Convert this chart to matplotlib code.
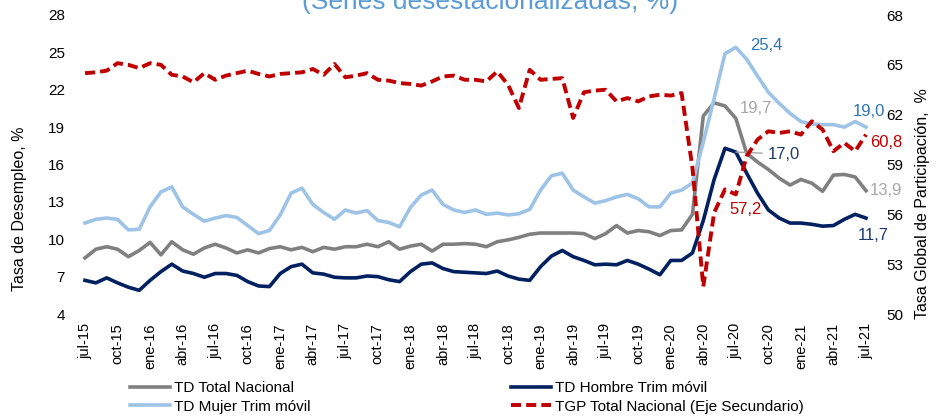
import matplotlib
matplotlib.use("Agg")
import matplotlib.pyplot as plt

plt.rcParams['font.family'] = ['Liberation Sans', 'DejaVu Sans']

# ---------------- data (monthly, jul-15 ... jul-21) ----------------
tick_labels = ["jul-15", "oct-15", "ene-16", "abr-16", "jul-16", "oct-16", "ene-17",
               "abr-17", "jul-17", "oct-17", "ene-18", "abr-18", "jul-18", "oct-18",
               "ene-19", "abr-19", "jul-19", "oct-19", "ene-20", "abr-20", "jul-20",
               "oct-20", "ene-21", "abr-21", "jul-21"]

td_total = [8.5, 9.2, 9.4, 9.2, 8.6, 9.1, 9.75, 8.75, 9.8, 9.15, 8.8, 9.3, 9.6, 9.3, 8.9,
            9.15, 8.9, 9.25, 9.4, 9.15, 9.35, 9.0, 9.35, 9.2, 9.4, 9.4, 9.6, 9.4, 9.8, 9.2,
            9.45, 9.6, 9.05, 9.6, 9.6, 9.65, 9.6, 9.4, 9.8, 9.95, 10.15, 10.4, 10.5, 10.5,
            10.5, 10.5, 10.45, 10.05, 10.45, 11.1, 10.5, 10.7, 10.6, 10.3, 10.7, 10.75,
            12.0, 19.9, 20.95, 20.7, 19.7, 16.9, 16.2, 15.6, 14.9, 14.35, 14.8, 14.5,
            13.85, 15.15, 15.2, 15.0, 13.9]

td_mujer = [11.3, 11.6, 11.7, 11.6, 10.75, 10.8, 12.6, 13.8, 14.2, 12.6, 12.0, 11.45, 11.7,
            11.9, 11.75, 11.1, 10.45, 10.7, 11.95, 13.7, 14.1, 12.8, 12.15, 11.6, 12.35,
            12.1, 12.3, 11.5, 11.35, 11.0, 12.55, 13.55, 13.95, 12.8, 12.35, 12.15, 12.35,
            12.0, 12.1, 11.95, 12.05, 12.4, 13.95, 15.1, 15.3, 13.95, 13.4, 12.9, 13.1,
            13.4, 13.6, 13.25, 12.6, 12.6, 13.7, 13.95, 14.5, 17.8, 21.3, 24.9, 25.4,
            24.45, 23.1, 21.8, 20.9, 20.1, 19.45, 19.25, 19.2, 19.2, 19.0, 19.45, 19.0]

td_hombre = [6.7, 6.5, 6.9, 6.5, 6.15, 5.9, 6.7, 7.4, 8.0, 7.45, 7.25, 6.95, 7.25, 7.25,
             7.1, 6.6, 6.25, 6.2, 7.25, 7.8, 8.0, 7.3, 7.2, 6.95, 6.9, 6.9, 7.05, 7.0, 6.75,
             6.6, 7.4, 8.0, 8.1, 7.65, 7.4, 7.35, 7.3, 7.25, 7.45, 7.05, 6.8, 6.7, 7.8,
             8.65, 9.1, 8.6, 8.3, 7.95, 8.0, 7.95, 8.3, 8.0, 7.6, 7.15, 8.3, 8.3, 8.9,
             11.5, 14.8, 17.3, 17.0, 15.3, 13.7, 12.35, 11.7, 11.3, 11.3, 11.2, 11.05,
             11.1, 11.6, 12.0, 11.7]

tgp_total = [64.5, 64.55, 64.65, 65.1, 65.0, 64.8, 65.1, 65.0, 64.4, 64.3, 63.95, 64.5,
             64.1, 64.35, 64.5, 64.65, 64.45, 64.3, 64.45, 64.5, 64.55, 64.75, 64.4, 65.05,
             64.25, 64.35, 64.5, 64.1, 64.05, 63.9, 63.85, 63.75, 64.0, 64.3, 64.35, 64.1,
             64.1, 64.0, 64.6, 63.8, 62.4, 64.7, 64.1, 64.15, 64.2, 61.8, 63.35, 63.45,
             63.5, 62.8, 63.0, 62.8, 63.1, 63.2, 63.15, 63.3, 58.8, 51.65, 56.1, 57.5,
             57.2, 59.5, 60.5, 61.0, 60.9, 61.0, 60.8, 61.6, 61.1, 59.8, 60.3, 59.8, 60.8]

left_ticks = [4, 7, 10, 13, 16, 19, 22, 25, 28]
right_ticks = [50, 53, 56, 59, 62, 65, 68]

# ---------------- styling ----------------
C_GRAY = "#808080"
C_LBLUE = "#9DC3E6"
C_NAVY = "#002060"
C_RED = "#C00000"

x = list(range(len(td_total)))
n = len(x)

fig = plt.figure(figsize=(9.41, 4.17), dpi=100)
W, H = 941, 417
ax_l, ax_r, ax_t, ax_b = 75, 876, 15, 314
ax = fig.add_axes([ax_l / W, 1 - ax_b / H, (ax_r - ax_l) / W, (ax_b - ax_t) / H])
ax2 = ax.twinx()

lw = 2.6
l_total, = ax.plot(x, td_total, color=C_GRAY, lw=lw, label="TD Total Nacional",
                   solid_joinstyle='round')
l_hombre, = ax.plot(x, td_hombre, color=C_NAVY, lw=lw, label="TD Hombre Trim móvil",
                    solid_joinstyle='round')
l_mujer, = ax.plot(x, td_mujer, color=C_LBLUE, lw=lw, label="TD Mujer Trim móvil",
                   solid_joinstyle='round')
l_tgp, = ax2.plot(x, tgp_total, color=C_RED, lw=2.8, dashes=(2.6, 1.3),
                  label="TGP Total Nacional (Eje Secundario)")

px = (ax_r - ax_l) / (n - 1 + 1.84)
ax.set_xlim(-(85 - ax_l) / 10.85, (n - 1) + (ax_r - 866) / 10.85)
ax.set_ylim(left_ticks[0], left_ticks[-1])
ax2.set_ylim(right_ticks[0], right_ticks[-1])
ax.set_yticks(left_ticks)
ax2.set_yticks(right_ticks)
ax.set_xticks(list(range(0, n, 3)))
ax.set_xticklabels(tick_labels, rotation=90, fontsize=10.5)

for a in (ax, ax2):
    for s in a.spines.values():
        s.set_visible(False)
ax.tick_params(axis='y', length=0, pad=7.2, labelsize=11)
ax2.tick_params(axis='y', length=0, pad=7.2, labelsize=11)
ax.tick_params(axis='x', length=0, pad=6.5)

ax.set_ylabel("Tasa de Desempleo, %", fontsize=11.5, va='center')
ax.yaxis.set_label_coords((20 - ax_l) / (ax_r - ax_l), (ax_b - 209) / (ax_b - ax_t))
ax2.set_ylabel("Tasa Global de Participación,  %", fontsize=11.5, va='center',
               rotation=90)
ax2.yaxis.set_label_coords((922 - ax_l) / (ax_r - ax_l), (ax_b - 204) / (ax_b - ax_t))

# title (cut off at the top in the reference)
fig.text(490 / W, 1 - 9 / H, "(Series desestacionalizadas, %)", ha='center',
         va='baseline', fontsize=19, color="#5B9BD5")

# ---------------- data labels ----------------
def fmt(v):
    return f"{v:.1f}".replace(".", ",")

i_peak = 60
last = n - 1
labels = [
    (ax, i_peak, td_mujer[i_peak], "#2E75B6", (14, 2), 'left', 'center'),
    (ax, i_peak, td_total[i_peak], "#A6A6A6", (4, 10), 'left', 'center'),
    (ax2, i_peak, tgp_total[i_peak], C_RED, (-6, -15), 'left', 'center'),
    (ax, last, td_mujer[last], "#2E75B6", (3, 16), 'center', 'center'),
    (ax2, last, tgp_total[last], C_RED, (4, -8), 'left', 'center'),
    (ax, last, td_total[last], "#A6A6A6", (4, 0), 'left', 'center'),
    (ax, last, td_hombre[last], "#1F3A6E", (-8, -17), 'left', 'center'),
]
for a, i, v, c, off, ha, va in labels:
    a.annotate(fmt(v), xy=(i, v), xytext=off, textcoords='offset pixels',
               ha=ha, va=va, fontsize=12, color=c)

ax.annotate(fmt(td_hombre[i_peak]), xy=(i_peak, td_hombre[i_peak]), xytext=(32, -2),
            textcoords='offset pixels', ha='left', va='center', fontsize=12,
            color="#1F3A6E",
            arrowprops=dict(arrowstyle='-', color="#A6A6A6", lw=1, shrinkA=2, shrinkB=0))

# ---------------- legend ----------------
leg_kw = dict(frameon=False, borderpad=0, borderaxespad=0, handlelength=2.65,
              handletextpad=0.25, labelspacing=0.3, fontsize=11, loc='center left')
fig.legend([l_total, l_mujer], ["TD Total Nacional", "TD Mujer Trim móvil"],
           bbox_to_anchor=(130 / W, 1 - 397.5 / H), **leg_kw)
fig.legend([l_hombre, l_tgp], ["TD Hombre Trim móvil", "TGP Total Nacional (Eje Secundario)"],
           bbox_to_anchor=(511 / W, 1 - 397.5 / H), **leg_kw)

fig.savefig("out.png", dpi=100)
